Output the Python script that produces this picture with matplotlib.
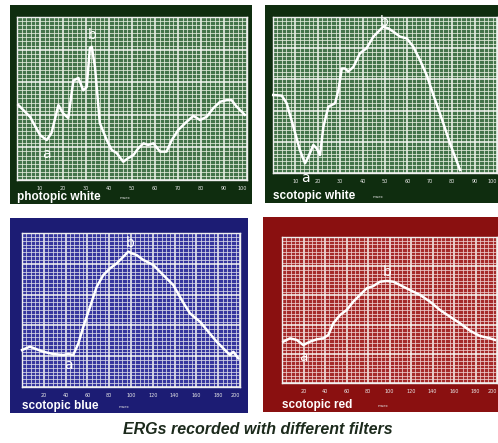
import numpy as np
import matplotlib
matplotlib.use("Agg")
import matplotlib.pyplot as plt

# traces (x in msec, y in relative units 0-100)
pw_x = [0.6, 5.7, 10, 12.9, 15, 18, 20, 22.3, 24.5, 26.7, 28.8, 30.3, 31.7, 32.5, 33.9, 36, 39, 41.2,
        43.3, 46.2, 48.4, 50.6, 52.7, 55, 57, 59.3, 62.2, 65, 67.3, 70.1, 73.8, 76.7, 79.6, 82.5, 85.3,
        88.3, 91.2, 93.3, 95.5, 99]
pw_y = [46, 38.7, 27.6, 24.5, 28.8, 46, 41, 38, 61, 62.6, 55, 57, 81, 81.8, 69.5, 35, 24.5, 18.4,
        16.6, 11.2, 13.5, 15.3, 19.4, 22.5, 21.5, 22.5, 17.4, 17.4, 24.5, 30.7, 35.8, 39.3, 36.8, 38.8, 44,
        48, 49, 49, 45, 40]

sw_x = [0.1, 3.9, 6.1, 9.1, 12, 14.3, 15.8, 18, 19.5, 21, 22.5, 24.7, 27.7, 29.2, 30.7, 32.1, 33.6,
        35.9, 38.8, 41.8, 44.8, 47, 49.2, 51.5, 53.7, 56.7, 59.7, 62.6, 65.6, 68.6, 71.6, 75.3, 79, 83.5]
sw_y = [50, 49.6, 44.7, 29.7, 14.7, 6.2, 10.4, 18, 15.8, 11.5, 29.7, 42.5, 44.7, 53.2, 67, 67, 65,
        68, 76.7, 80, 87.4, 90.6, 93.8, 92.7, 90.6, 87.4, 86.3, 81, 72.4, 62.8, 50, 35, 19, 1.9]

sb_x = [0, 7.3, 13.5, 19.6, 28.7, 37.9, 42.5, 47, 51.7, 56.3, 62.4, 68.5, 74.6, 80.7, 86.9, 93, 97.5,
        100.6, 105.2, 111.3, 120.5, 129.6, 138.8, 146.5, 154.1, 163.3, 170.9, 178.6, 186.2, 190.8, 193.9, 198.4]
sb_y = [24, 26.2, 24.5, 22.9, 21.4, 20.8, 21.4, 20.8, 28.3, 39.2, 52, 65, 72.7, 77, 80.3, 84.6, 87.9,
        86.8, 85.7, 82.5, 79.2, 72.7, 66.2, 56.5, 47.8, 42.4, 35.9, 29.4, 24, 20.8, 22.9, 18.6]

sr_x = [1.2, 7.4, 13.7, 19.8, 26, 32.3, 38.4, 43.1, 47.7, 54, 60.2, 66.3, 72.6, 78.8, 84.9, 91.2, 97.4,
        103.5, 109.8, 119, 128.4, 137.7, 147, 156.3, 165.6, 174.9, 184.2, 193.5, 198.1]
sr_y = [28.3, 30.6, 29.5, 26, 28.3, 29.9, 30.6, 32.9, 40.9, 46.6, 50, 55.7, 60.3, 64.9, 66.4, 69.4, 69.9,
        69.4, 67.1, 63.7, 60.3, 55.7, 50, 45.4, 40.9, 35.8, 32.2, 30.6, 29.5]

names = ["photopic white", "scotopic white", "scotopic blue", "scotopic red"]
xmax = [100, 100, 200, 200]
xstep = [10, 10, 20, 20]
a_pos = [(12.9, 16), (14.3, -3), (42.5, 14.3), (19.8, 18)]
b_pos = [(32.5, 89), (49.6, 97), (99.7, 93.3), (97.4, 76)]
traces = [(pw_x, pw_y), (sw_x, sw_y), (sb_x, sb_y), (sr_x, sr_y)]

frame_col = ["#0f2d0f", "#0f2d0f", "#1c1c74", "#8a1010"]
bg_col = ["#44744a", "#44744a", "#36369e", "#a52a2a"]
line_col = ["#e8f0e0", "#e8f0e0", "#dcdcea", "#f0d0d0"]

# positions in pixels: frame (x0, y0, x1, y1) and grid area
frames = [(10, 5, 252, 204), (265, 5, 498, 203), (10, 218, 248, 413), (263, 217, 498, 412)]
grids = [(17, 17, 247, 180), (273, 17, 497, 173), (22, 233, 240, 387), (282, 237, 497, 383)]

W, H = 498, 443
fig = plt.figure(figsize=(W / 100, H / 100), dpi=100)
fig.patch.set_facecolor("white")


def px_rect(r):
    x0, y0, x1, y1 = r
    return [x0 / W, 1 - y1 / H, (x1 - x0) / W, (y1 - y0) / H]


for i in range(4):
    fa = fig.add_axes(px_rect(frames[i]))
    fa.set_facecolor(frame_col[i])
    fa.set_xticks([])
    fa.set_yticks([])
    for s in fa.spines.values():
        s.set_visible(False)

    ax = fig.add_axes(px_rect(grids[i]))
    ax.set_facecolor(bg_col[i])
    ax.set_xlim(0, xmax[i])
    ax.set_ylim(0, 100)
    maj = np.arange(0, xmax[i] + 1, xstep[i])
    ax.set_xticks(maj, [""] + [str(v) for v in maj[1:]])
    ax.get_xticklabels()[-1].set_horizontalalignment("right")
    ax.set_xticks(np.arange(0, xmax[i] + 0.1, xstep[i] / 5), minor=True)
    ax.set_yticks(np.arange(0, 101, 20), [])
    ax.set_yticks(np.arange(0, 100.1, 2.5), minor=True)
    ax.grid(which="major", color="#f8f8f4", lw=1.1)
    ax.grid(which="minor", color=line_col[i], lw=0.6, alpha=0.9)
    ax.tick_params(which="both", length=0, labelsize=3.5, labelcolor="#e8e8e8", pad=4)
    ax.tick_params(axis="y", which="both", left=False, labelleft=False)
    for s in ax.spines.values():
        s.set_color("#f0f0f0")
        s.set_linewidth(1.0)
    ax.set_axisbelow(True)

    tx, ty = traces[i]
    ax.plot(tx, ty, color="white", lw=1.8, clip_on=False, zorder=5)
    ax.text(a_pos[i][0], a_pos[i][1], "a", color="white", fontsize=10,
            ha="center", va="center", clip_on=False, zorder=6)
    ax.text(b_pos[i][0], b_pos[i][1], "b", color="white", fontsize=10,
            ha="center", va="center", clip_on=False, zorder=6)

    fx0, fy0, fx1, fy1 = frames[i]
    gx0 = grids[i][0]
    fig.text(gx0 / W, 1 - (fy1 - 7) / H, names[i], color="white", fontsize=8.5,
             fontweight="bold", family="Liberation Sans", ha="left", va="center")
    gx1 = grids[i][2]
    fig.text((gx0 + (gx1 - gx0) * 0.47) / W, 1 - (fy1 - 6) / H, "msec", color="#e0e0e0",
             fontsize=3, ha="center", va="center")

fig.text(258 / W, 1 - 430 / H, "ERGs recorded with different filters", color="#1c2a1c",
         fontsize=11.5, fontweight="bold", fontstyle="italic", family="Liberation Sans",
         ha="center", va="center")

fig.savefig("out.png", dpi=100)
